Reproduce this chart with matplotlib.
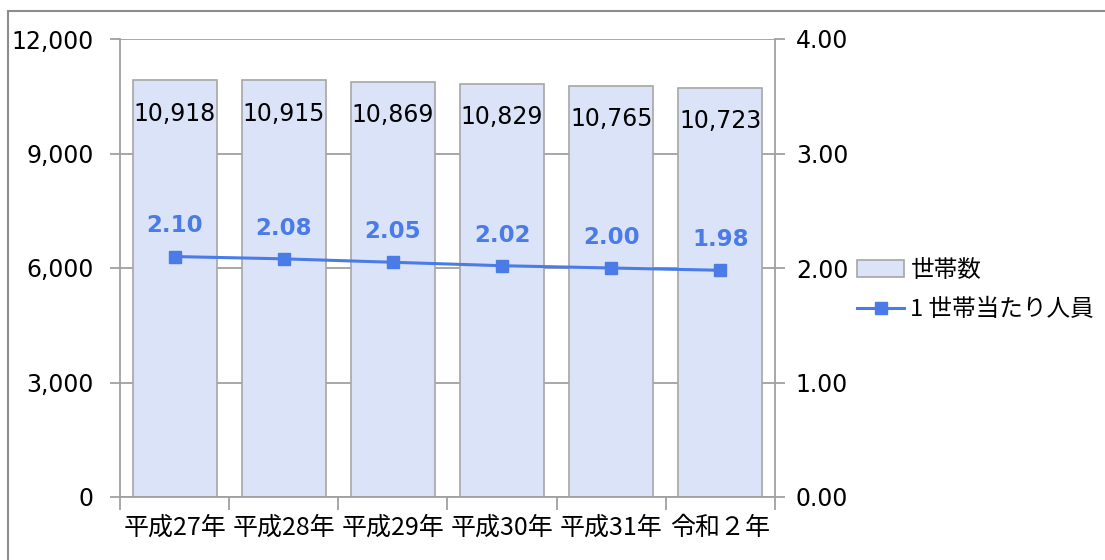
import matplotlib.pyplot as plt
import matplotlib.patches as mpatches

plt.rcParams['font.family'] = ['DejaVu Sans', 'Noto Sans CJK JP']

# データ
years = ['平成27年', '平成28年', '平成29年', '平成30年', '平成31年', '令和２年']
households = [10918, 10915, 10869, 10829, 10765, 10723]
per_household = [2.10, 2.08, 2.05, 2.02, 2.00, 1.98]

bar_color = '#dae3f8'
edge_gray = '#a6a6a6'
line_color = '#4a7be6'
grid_gray = '#a0a0a0'

fig = plt.figure(figsize=(11.05, 5.6), dpi=100)
ax = fig.add_axes([120 / 1105, 1 - 497 / 560, 655 / 1105, 458 / 560])
ax2 = ax.twinx()

x = list(range(len(years)))
bars = ax.bar(x, households, width=0.77, color=bar_color, edgecolor=edge_gray,
              linewidth=1.2, label='世帯数', zorder=2)
ax.set_xlim(-0.5, len(years) - 0.5)
ax.set_ylim(0, 12000)
ax.set_yticks([0, 3000, 6000, 9000, 12000])
ax.set_yticklabels([f'{v:,}' for v in [0, 3000, 6000, 9000, 12000]], fontsize=17)
ax.grid(axis='y', color=grid_gray, linewidth=1.3, zorder=0)
ax.set_axisbelow(True)

# x軸の目盛りはカテゴリの境界に
ax.set_xticks([i - 0.5 for i in range(len(years) + 1)], minor=False)
ax.set_xticklabels([])
ax.set_xticks(x, minor=True)
ax.set_xticklabels(years, minor=True, fontsize=18, family=['Noto Sans CJK JP'])
ax.tick_params(axis='x', which='major', length=9, color=grid_gray, width=1.3)
ax.tick_params(axis='x', which='minor', length=0, pad=13)
ax.tick_params(axis='y', length=7, color=grid_gray, width=1.3, pad=12)

for s in ['top', 'right']:
    ax.spines[s].set_visible(False)
for s in ['left', 'bottom']:
    ax.spines[s].set_color(grid_gray)
    ax.spines[s].set_linewidth(1.3)

for xi, v in zip(x, households):
    ax.annotate(f'{v:,}', (xi, v), xytext=(0, -24), textcoords='offset points',
                ha='center', va='center', fontsize=17, color='black', zorder=5)

line, = ax2.plot(x, per_household, color=line_color, linewidth=2.2, marker='s',
                 markersize=8, label='1 世帯当たり人員', zorder=4)
ax2.set_ylim(0, 4)
ax2.set_yticks([0, 1, 2, 3, 4])
ax2.set_yticklabels([f'{v:.2f}' for v in [0, 1, 2, 3, 4]], fontsize=17)
ax2.tick_params(axis='y', length=7, color=grid_gray, width=1.3, pad=8)
for s in ['top', 'left', 'bottom']:
    ax2.spines[s].set_visible(False)
ax2.spines['right'].set_color(grid_gray)
ax2.spines['right'].set_linewidth(1.3)

for xi, v in zip(x, per_household):
    ax2.annotate(f'{v:.2f}', (xi, v), xytext=(0, 22), textcoords='offset points',
                 ha='center', va='center', fontsize=16.5, fontweight='bold',
                 color=line_color)

fig.legend([bars, line], ['世帯数', '1 世帯当たり人員'],
           loc='center left', bbox_to_anchor=(836 / 1105, 1 - 290 / 560),
           frameon=False, prop={'family': ['Noto Sans CJK JP'], 'size': 17},
           handlelength=2.0, handletextpad=0.25, labelspacing=0.7)

# 外枠
fig.patches.append(mpatches.Rectangle((8 / 1105, -0.05), 1.2, 1 - 11 / 560 + 0.05,
                                      transform=fig.transFigure, fill=False,
                                      edgecolor='#8c8c8c', linewidth=1.5))

fig.savefig('out.png', dpi=100)
